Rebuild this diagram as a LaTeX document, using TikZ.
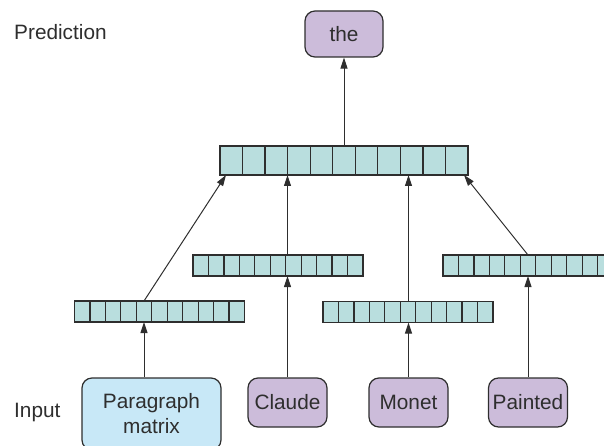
\documentclass[tikz,border=0pt]{standalone}
\usepackage{fontspec}
\setmainfont{Liberation Sans}
\usetikzlibrary{arrows.meta,calc}

\definecolor{cellfill}{HTML}{B9DEDE}
\definecolor{wordfill}{HTML}{CCBCDA}
\definecolor{parfill}{HTML}{C8E8F7}
\definecolor{edge}{HTML}{2E2E2E}

\tikzset{
    txt/.style={text=edge, font=\fontsize{20.8}{25}\selectfont},
    word/.style={txt, draw=edge, line width=1.2pt, fill=wordfill, rounded corners=10pt,
        minimum width=79pt, minimum height=49pt, inner sep=0pt},
    side/.style={txt, anchor=west, inner sep=0pt},
    bigvec/.style={draw=edge, line width=1.4pt, fill=cellfill, outer sep=0pt, inner sep=0pt,
        minimum width=248pt, minimum height=29pt},
    smallvec/.style={bigvec, minimum width=170pt, minimum height=21pt},
    divider/.style={draw=edge, line width=1.2pt},
    arr/.style={draw=edge, line width=1pt, -{Triangle[length=11pt,width=7pt]}}
}

\begin{document}
\begin{tikzpicture}[x=1pt,y=-1pt]
    \useasboundingbox (0,0) rectangle (604,446);
    % prediction
    \node[side] (pred) at (14,32.5) {Prediction};
    \node[word, minimum width=78pt, minimum height=46pt] (the) at (344,34) {the};
    % average / concatenate
    \node[bigvec] (top) at (344,160.5) {};
    \foreach \i in {1,...,10}
        \draw[divider] ($(top.south west)!\i/11!(top.south east)$) -- ($(top.north west)!\i/11!(top.north east)$);
    % word vectors
    \node[smallvec] (vpar) at (159.5,311.5) {};
    \node[smallvec] (vclaude) at (278,265.5) {};
    \node[smallvec] (vmonet) at (408,312) {};
    \node[smallvec] (vpainted) at (528,265.5) {};
    \foreach \v in {vpar,vclaude,vmonet,vpainted}
        \foreach \i in {1,...,10}
            \draw[divider] ($(\v.south west)!\i/11!(\v.south east)$) -- ($(\v.north west)!\i/11!(\v.north east)$);
    % input
    \node[side] (inp) at (14,412.5) {Input};
    \node[word, fill=parfill, minimum width=139pt, minimum height=72pt, align=center] (pmat) at (151.5,414) {Paragraph\\matrix};
    \node[word] (claude) at (287.5,402.5) {Claude};
    \node[word] (monet) at (408.5,402.5) {Monet};
    \node[word] (painted) at (528,402.5) {Painted};
    % connectors
    \draw[arr] ([xshift=-15.5pt]vpar.south |- pmat.north) -- ([xshift=-15.5pt]vpar.south);
    \draw[arr] ([xshift=-15.5pt]vpar.north) -- ([xshift=6pt]top.south west);
    \draw[arr] (claude) -- (claude |- vclaude.south);
    \draw[arr] (claude |- vclaude.north) -- (claude |- top.south);
    \draw[arr] (monet) -- (monet |- vmonet.south);
    \draw[arr] (monet |- vmonet.north) -- (monet |- top.south);
    \draw[arr] (painted) -- (painted |- vpainted.south);
    \draw[arr] (painted |- vpainted.north) -- ([xshift=-4pt]top.south east);
    \draw[arr] (top) -- (the);
\end{tikzpicture}
\end{document}
